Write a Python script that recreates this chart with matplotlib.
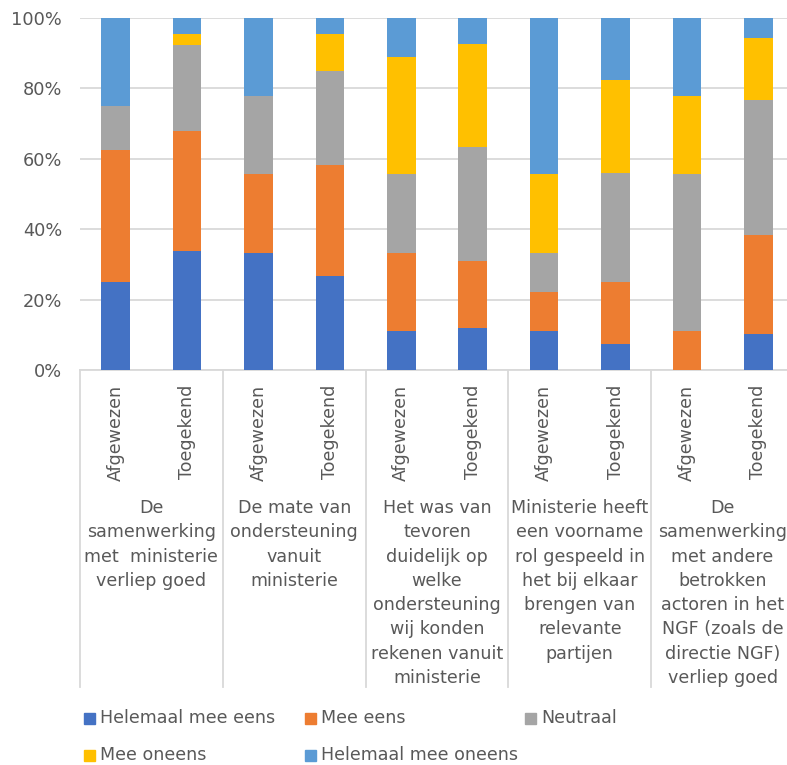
import matplotlib
matplotlib.use("Agg")
import matplotlib.pyplot as plt
import matplotlib.transforms as mtransforms
from matplotlib.patches import Rectangle
import numpy as np

# data (percentages)
bar_labels = ["Afgewezen", "Toegekend"] * 5
groups = [
    "De\nsamenwerking\nmet  ministerie\nverliep goed",
    "De mate van\nondersteuning\nvanuit\nministerie",
    "Het was van\ntevoren\nduidelijk op\nwelke\nondersteuning\nwij konden\nrekenen vanuit\nministerie",
    "Ministerie heeft\neen voorname\nrol gespeeld in\nhet bij elkaar\nbrengen van\nrelevante\npartijen",
    "De\nsamenwerking\nmet andere\nbetrokken\nactoren in het\nNGF (zoals de\ndirectie NGF)\nverliep goed",
]
series = ["Helemaal mee eens", "Mee eens", "Neutraal", "Mee oneens", "Helemaal mee oneens"]
helemaal_eens = [25.0, 33.8, 33.3, 26.6, 11.1, 11.8, 11.1, 7.4, 0.0, 10.3]
mee_eens = [37.5, 33.8, 22.2, 31.5, 22.2, 19.1, 11.1, 17.6, 11.1, 27.9]
neutraal = [12.5, 24.6, 22.2, 26.8, 22.2, 32.4, 11.1, 30.9, 44.4, 38.2]
mee_oneens = [0.0, 3.1, 0.0, 10.5, 33.3, 29.4, 22.2, 26.5, 22.2, 17.6]
helemaal_oneens = [25.0, 4.6, 22.2, 4.6, 11.1, 7.4, 44.4, 17.6, 22.2, 5.9]
yticks = [0, 20, 40, 60, 80, 100]

colors = ["#4472C4", "#ED7D31", "#A5A5A5", "#FFC000", "#5B9BD5"]
text_col = "#595959"
grid_col = "#D9D9D9"
fs = 12.6

W, H = 787, 765
plt.rcParams['font.family'] = ['DejaVu Sans']

fig = plt.figure(figsize=(W / 100, H / 100), dpi=100)
ax = fig.add_axes([80 / W, 1 - 370 / H, 714 / W, 352.5 / H])

# 100% stacked
data = np.array([helemaal_eens, mee_eens, neutraal, mee_oneens, helemaal_oneens])
data = data / data.sum(axis=0) * 100
x = np.arange(len(bar_labels))
bottom = np.zeros(len(x))
for vals, c in zip(data, colors):
    ax.bar(x, vals, 0.4, bottom=bottom, color=c, linewidth=0, zorder=3)
    bottom += vals

ax.set_xlim(-0.5, len(x) - 0.5)
ax.set_ylim(0, 100)
ax.set_yticks(yticks)
ax.set_yticklabels([f"{t}%" for t in yticks])
ax.tick_params(axis='y', length=0, pad=13, labelsize=12.8, labelcolor=text_col)
ax.set_xticks([])
ax.yaxis.grid(True, color=grid_col, lw=1.3, zorder=0)
ax.set_axisbelow(True)
for s in ["left", "top", "right"]:
    ax.spines[s].set_visible(False)
ax.spines["bottom"].set_color(grid_col)
ax.spines["bottom"].set_linewidth(1.3)

# category axis (two levels) below the plot
trans = mtransforms.blended_transform_factory(ax.transData, fig.transFigure)
def fy(py):
    return 1 - py / H

for b in np.arange(-0.5, len(x), 2):
    ax.plot([b, b], [fy(370), fy(687)], transform=trans, color=grid_col,
            lw=1.3, clip_on=False)

for xi, lab in zip(x, bar_labels):
    ax.text(xi, fy(385), lab, transform=trans, rotation=90, ha='center',
            va='top', fontsize=fs, color=text_col)

for gi, g in enumerate(groups):
    ax.text(2 * gi + 0.5, fy(499), g, transform=trans, ha='center', va='top',
            fontsize=fs, color=text_col, linespacing=1.45)

# legend, drawn as grid like Excel does
for i, (name, c) in enumerate(zip(series, colors)):
    px = 84 + 220.5 * (i % 3)
    py = 718 + 37 * (i // 3)
    fig.patches.append(Rectangle((px / W, fy(py + 5.5)), 11 / W, 11 / H,
                                 transform=fig.transFigure, color=c))
    fig.text((px + 16.5) / W, fy(py), name, ha='left', va='center',
             fontsize=fs, color=text_col)

fig.savefig("out.png", dpi=100)
